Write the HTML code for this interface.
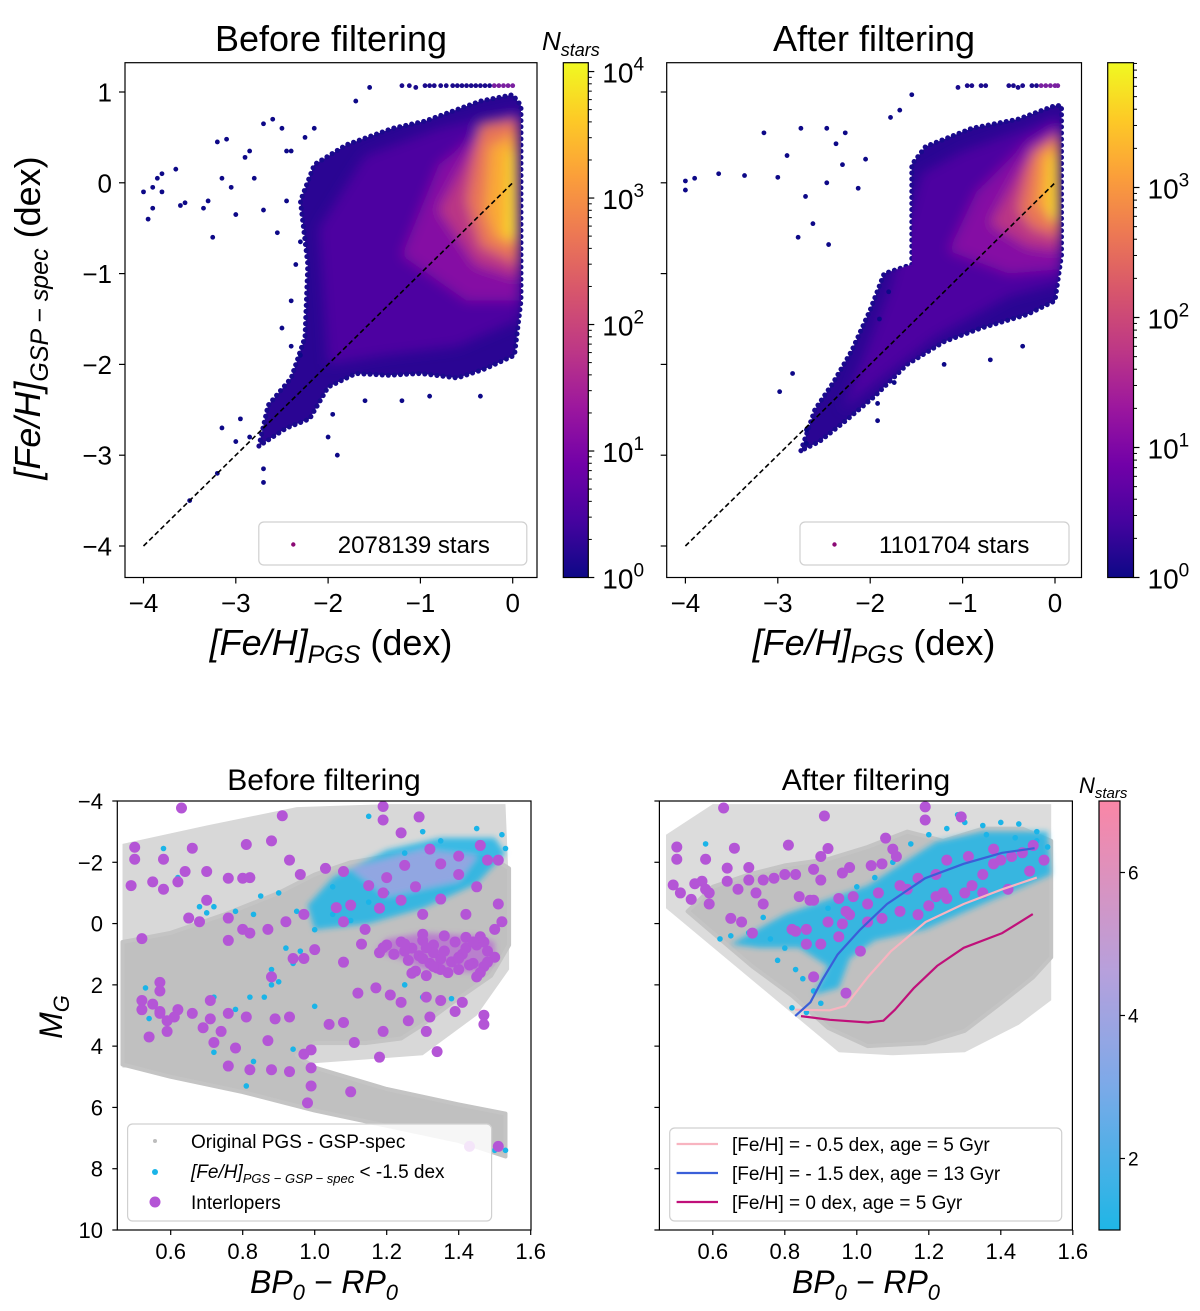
<!DOCTYPE html>
<html><head><meta charset="utf-8">
<style>
html,body{margin:0;padding:0;background:#fff;}
svg{display:block;font-family:"Liberation Sans","DejaVu Sans",sans-serif;}
</style></head>
<body>
<svg id="fig" xmlns="http://www.w3.org/2000/svg" width="1200" height="1311" viewBox="0 0 1200 1311">
<defs id="defs">
<linearGradient id="plasma" x1="0" y1="1" x2="0" y2="0">
<stop offset="0" stop-color="#0d0887"/><stop offset="0.11" stop-color="#46039f"/><stop offset="0.22" stop-color="#7201a8"/><stop offset="0.33" stop-color="#9c179e"/><stop offset="0.44" stop-color="#bd3786"/><stop offset="0.56" stop-color="#d8576b"/><stop offset="0.67" stop-color="#ed7953"/><stop offset="0.78" stop-color="#fb9f3a"/><stop offset="0.89" stop-color="#fdca26"/><stop offset="1" stop-color="#f0f921"/>
</linearGradient>
<linearGradient id="coolpink" x1="0" y1="1" x2="0" y2="0">
<stop offset="0" stop-color="#1fb6e6"/><stop offset="0.35" stop-color="#7fa9e8"/><stop offset="0.6" stop-color="#b6a0dc"/><stop offset="1" stop-color="#fa86a6"/>
</linearGradient>
<filter id="blur" x="-20%" y="-20%" width="140%" height="140%"><feGaussianBlur stdDeviation="6"/></filter>
<filter id="blur2" x="-20%" y="-20%" width="140%" height="140%"><feGaussianBlur stdDeviation="3"/></filter>
<clipPath id="clipTL"><rect x="125" y="62.7" width="412" height="514.8"/></clipPath>
<clipPath id="clipTR"><rect x="666.7" y="62.7" width="414.8" height="514.8"/></clipPath>
<clipPath id="clipBL"><rect x="117.3" y="801" width="413.7" height="429"/></clipPath>
<clipPath id="clipBR"><rect x="659.4" y="801" width="413" height="429"/></clipPath>
</defs>

<text x="331" y="51" font-size="36" text-anchor="middle">Before filtering</text>
<text x="874" y="51" font-size="36" text-anchor="middle">After filtering</text>
<text x="324" y="790" font-size="30" text-anchor="middle">Before filtering</text>
<text x="866" y="790" font-size="30" text-anchor="middle">After filtering</text>

<text x="331" y="655" font-size="36" text-anchor="middle"><tspan font-style="italic">[Fe/H]</tspan><tspan font-style="italic" font-size="25" dy="8">PGS</tspan><tspan dy="-8"> (dex)</tspan></text>
<text x="874" y="655" font-size="36" text-anchor="middle"><tspan font-style="italic">[Fe/H]</tspan><tspan font-style="italic" font-size="25" dy="8">PGS</tspan><tspan dy="-8"> (dex)</tspan></text>
<text transform="translate(40,318) rotate(-90)" font-size="36" text-anchor="middle"><tspan font-style="italic">[Fe/H]</tspan><tspan font-style="italic" font-size="25" dy="8">GSP − spec</tspan><tspan dy="-8"> (dex)</tspan></text>
<text x="324" y="1293" font-size="32" text-anchor="middle" font-style="italic">BP<tspan font-size="22" dy="7">0</tspan><tspan dy="-7"> − RP</tspan><tspan font-size="22" dy="7">0</tspan></text>
<text x="866" y="1293" font-size="32" text-anchor="middle" font-style="italic">BP<tspan font-size="22" dy="7">0</tspan><tspan dy="-7"> − RP</tspan><tspan font-size="22" dy="7">0</tspan></text>
<text transform="translate(62,1017) rotate(-90)" font-size="32" text-anchor="middle" font-style="italic">M<tspan font-size="22" dy="7">G</tspan></text>

<text x="542" y="50" font-size="26" font-style="italic">N<tspan font-size="18" dy="6">stars</tspan></text>
<text x="1079" y="793" font-size="22" font-style="italic">N<tspan font-size="15" dy="5">stars</tspan></text>

<g id="layer"></g>
</svg>
<script>
// ---------- data: top panels ----------
const topXTicks = [-4, -3, -2, -1, 0];
const topYTicks = [1, 0, -1, -2, -3, -4];
const topLeftEnvelope = [[-2.75,-2.9],[-2.65,-2.45],[-2.4,-2.15],[-2.25,-1.7],[-2.22,-0.9],[-2.3,-0.2],[-2.15,0.2],[-1.8,0.42],[-1.3,0.6],[-0.95,0.68],[-0.35,0.9],[0.0,0.97],[0.09,0.85],[0.09,-1.3],[0.02,-1.9],[-0.3,-2.05],[-0.6,-2.15],[-1.0,-2.1],[-1.35,-2.12],[-1.7,-2.1],[-2.0,-2.25],[-2.2,-2.6],[-2.45,-2.7]];
const topLeftL1 = [[-2.0,-2.0],[-2.1,-0.5],[-1.6,0.3],[-0.8,0.6],[0.06,0.8],[0.08,-1.5],[-0.6,-1.8],[-1.4,-1.9]];
const topLeftL2 = [[-1.2,-0.8],[-0.8,0.2],[-0.3,0.6],[0.06,0.75],[0.07,-1.3],[-0.5,-1.3]];
const topLeftL3 = [[-0.8,-0.3],[-0.35,0.55],[0.06,0.7],[0.07,-1.05],[-0.4,-0.9]];
const topLeftL4 = [[-0.5,-0.2],[-0.35,0.65],[0.05,0.7],[0.06,-0.9],[-0.35,-0.7]];
const topLeftL5 = [[-0.3,-0.3],[-0.25,0.4],[0.04,0.55],[0.05,-0.7],[-0.2,-0.6]];
const topLeftL6 = [[-0.06,-0.6],[-0.04,0.35],[0.02,0.35],[0.02,-0.6]];
const topLeftOutX = [-4,-3.95,-3.9,-3.85,-3.8,-3.8,-3.9,-3.65,-3.6,-3.55,-3.35,-3.3,-3.25,-3.2,-3.15,-3.1,-3.05,-3.0,-2.9,-2.85,-2.8,-2.7,-2.7,-2.6,-2.5,-2.55,-2.45,-2.4,-2.35,-2.3,-2.5,-2.4,-2.4,-2.3,-2.0,-1.9,-2.7,-2.7,-2.85,-3.0,-3.2,-3.5,-1.2,-0.9,-0.35,-1.55,-1.7,-2.15,-2.25,-2.45,-3.15,-2.95,-1.95,-1.6];
const topLeftOutY = [-0.1,-0.4,-0.05,0.05,0.1,-0.1,-0.28,0.15,-0.25,-0.22,-0.28,-0.2,-0.6,0.45,0.05,0.48,-0.05,-0.35,0.28,0.35,0.05,-0.3,0.65,0.7,0.6,-0.55,-0.2,0.35,-0.9,-0.65,-1.6,-1.3,-1.8,-1.9,-2.8,-3.0,-3.15,-3.3,-2.8,-2.85,-3.2,-3.5,-2.4,-2.35,-2.35,1.05,0.9,0.6,0.5,0.35,-2.7,-2.6,-2.55,-2.4];
const topLeftStripeX = [-1.2,-1.12,-1.05,-0.95,-0.9,-0.85,-0.78,-0.72,-0.65,-0.6,-0.55,-0.5,-0.45,-0.4,-0.35,-0.3,-0.25,-0.2,-0.15,-0.1,-0.05,0.0];
const topLeftStripeY = [1.07,1.07,1.05,1.07,1.07,1.07,1.07,1.07,1.07,1.07,1.07,1.07,1.07,1.07,1.07,1.07,1.07,1.07,1.07,1.07,1.07,1.07];

const topRightEnvelope = [[-2.75,-2.95],[-2.6,-2.5],[-2.4,-2.2],[-2.2,-1.85],[-2.0,-1.4],[-1.85,-1.0],[-1.55,-0.9],[-1.55,0.2],[-1.4,0.4],[-0.9,0.6],[-0.4,0.7],[0.0,0.85],[0.07,0.85],[0.07,-0.8],[0.0,-1.3],[-0.3,-1.45],[-0.8,-1.6],[-1.2,-1.75],[-1.6,-2.0],[-1.95,-2.35],[-2.3,-2.65],[-2.55,-2.85]];
const topRightL1 = [[-2.3,-2.5],[-1.8,-1.2],[-1.45,0.1],[-1.0,0.35],[-0.3,0.6],[0.05,0.75],[0.06,-1.1],[-0.5,-1.25],[-1.3,-1.7]];
const topRightL2 = [[-1.15,-0.75],[-0.85,-0.1],[-0.3,0.45],[0.05,0.65],[0.06,-0.95],[-0.5,-1.0]];
const topRightL3 = [[-0.7,-0.45],[-0.35,0.2],[0.05,0.55],[0.06,-0.75],[-0.3,-0.7]];
const topRightL4 = [[-0.4,-0.3],[-0.25,0.35],[0.05,0.55],[0.06,-0.6],[-0.25,-0.5]];
const topRightL5 = [[-0.2,-0.25],[-0.15,0.3],[0.04,0.45],[0.05,-0.45]];
const topRightL6 = [[-0.05,-0.4],[-0.03,0.3],[0.02,0.3],[0.02,-0.4]];
const topRightOutX = [-4,-4,-3.9,-3.64,-3.36,-3.15,-3.0,-2.9,-2.78,-2.75,-2.47,-2.7,-2.47,-2.27,-2.37,-2.3,-2.13,-2.05,-2.62,-2.45,-1.92,-1.92,-2.69,-2.69,-2.98,-2.84,-1.74,-1.55,-1.78,-1.68,-1.2,-0.7,-0.35,-1.9,-1.8];
const topRightOutY = [0.02,-0.08,0.05,0.1,0.08,0.55,0.06,0.3,-0.6,0.6,0.6,-0.15,0.0,0.55,0.43,0.2,-0.06,0.26,-0.45,-0.68,-2.62,-2.43,-2.72,-2.87,-2.3,-2.1,-2.2,0.97,0.72,0.8,-2.0,-1.95,-1.8,-1.5,-1.2];
const topRightStripeX = [-1.05,-0.95,-0.9,-0.8,-0.75,-0.5,-0.45,-0.4,-0.35,-0.25,-0.2,-0.15,-0.1,-0.05,0.0,0.03];
const topRightStripeY = [1.05,1.07,1.07,1.07,1.07,1.07,1.07,1.05,1.07,1.07,1.07,1.07,1.07,1.07,1.07,1.07];
const cbTopLeftTicks = [0, 1, 2, 3, 4];
const cbTopRightTicks = [0, 1, 2, 3];

// ---------- data: bottom panels ----------
const cmdXTicks = [0.6, 0.8, 1.0, 1.2, 1.4, 1.6];
const cmdYTicks = [-4, -2, 0, 2, 4, 6, 8, 10];
const blSparse = [[0.466,-2.6],[0.7,-3.2],[0.95,-3.8],[1.2,-3.9],[1.53,-3.9],[1.54,-1.0],[1.54,1.5],[1.45,3.0],[1.3,4.3],[0.95,4.6],[0.466,4.7]];
const blDense = [[0.466,0.6],[0.6,0.3],[0.75,-0.3],[0.9,-1.0],[1.0,-1.6],[1.1,-2.0],[1.2,-2.2],[1.35,-2.3],[1.5,-2.1],[1.54,-1.8],[1.54,0.7],[1.49,1.7],[1.38,2.6],[1.3,3.3],[1.24,3.75],[1.14,3.9],[1.0,3.9],[0.95,4.3],[1.0,4.7],[1.2,5.4],[1.4,5.9],[1.53,6.2],[1.53,7.6],[1.4,7.1],[1.2,6.6],[1.0,6.1],[0.8,5.5],[0.6,5.0],[0.466,4.6]];
const blCyanBlob = [[0.98,-0.6],[1.05,-1.5],[1.2,-2.4],[1.35,-2.8],[1.5,-2.8],[1.53,-2.3],[1.45,-1.3],[1.3,-0.5],[1.15,0.0],[1.0,0.2]];
const blLavBlob = [[1.1,-1.8],[1.3,-2.4],[1.45,-2.2],[1.4,-1.4],[1.2,-0.9]];
const blClump = [[1.2,0.5],[1.3,0.3],[1.45,0.4],[1.5,0.6],[1.5,1.3],[1.45,1.6],[1.3,1.5],[1.25,1.2],[1.17,0.9]];
const blClumpX = [1.2,1.24,1.27,1.3,1.33,1.36,1.39,1.42,1.45,1.48,1.5,1.22,1.26,1.29,1.32,1.35,1.38,1.41,1.44,1.47,1.28,1.31,1.34,1.37,1.4,1.43,1.46,1.3,1.36,1.42,1.18,1.25,1.33,1.4,1.47];
const blClumpY = [0.7,0.6,0.8,0.55,0.7,0.9,0.6,0.8,0.7,0.9,1.1,1.0,1.2,1.05,1.3,1.15,1.25,1.0,1.3,1.4,1.55,1.7,1.45,1.6,1.5,1.35,1.6,0.35,0.4,0.45,0.95,0.9,0.95,1.1,0.6];
const blCyanX = [0.58,0.62,0.68,0.72,0.7,0.78,0.83,0.85,0.9,0.95,0.96,0.92,0.94,0.88,0.9,0.88,0.86,0.82,0.78,0.83,0.81,0.72,0.53,0.54,0.72,1.15,1.3,1.45,1.52,1.53,1.35,1.25,1.2,1.15,1.05,1.05,1.1,1.0,1.25,1.3,1.38,1.5,1.53,1.0,0.94];
const blCyanY = [-2.45,-1.5,-0.55,-0.55,-0.35,-0.4,-0.3,-0.9,-1.0,-0.4,0.9,0.8,1.3,1.5,1.9,2.0,2.4,2.4,2.8,4.5,5.3,4.2,2.1,3.1,2.4,-3.5,-3.0,-3.1,-2.9,-2.45,-2.7,-2.3,-1.0,-0.7,-1.2,-0.3,-0.1,0.2,2.0,2.4,2.45,7.4,7.4,2.7,4.1];
const blPurpleX = [0.63,0.91,1.19,1.19,1.29,1.24,0.5,0.5,0.58,0.66,0.81,0.88,0.93,0.49,0.55,0.58,0.62,0.64,0.7,0.76,0.8,0.82,0.96,1.03,1.08,1.15,1.19,1.24,1.32,1.35,1.4,1.46,1.48,1.51,1.51,1.52,1.5,1.46,1.48,1.45,1.4,1.35,1.3,1.27,1.31,1.25,1.19,1.13,1.14,1.08,1.06,0.97,0.92,0.87,0.82,0.8,0.76,0.52,0.65,0.68,0.7,0.76,0.88,0.94,1.0,0.97,1.08,1.12,1.17,1.21,1.24,1.26,1.31,1.32,1.31,1.34,1.35,1.39,1.41,1.47,1.47,1.19,1.18,1.11,1.08,1.04,0.99,0.99,0.99,0.98,1.1,0.97,0.93,0.88,0.82,0.76,0.78,0.87,0.89,0.93,0.81,0.76,0.74,0.72,0.71,0.69,0.66,0.62,0.61,0.59,0.57,0.55,0.52,0.52,0.54,0.57,0.57,0.57,0.59,0.71,1.43,1.51,1.2,1.25,1.3,1.35,1.42,1.45,1.1,1.18,1.4,1.28,1.36,1.44,1.22,1.33];
const blPurpleY = [-3.77,-3.52,-3.82,-3.38,-3.48,-2.96,-2.49,-2.1,-2.1,-2.46,-2.58,-2.7,-2.07,-1.24,-1.36,-1.12,-1.36,-1.7,-1.7,-1.48,-1.48,-1.5,-1.6,-1.8,-1.7,-1.24,-1.0,-0.76,-2.43,-1.95,-2.2,-2.55,-2.07,-2.07,-0.64,-0.06,0.19,0.43,1.26,1.74,1.14,1.5,1.14,1.62,0.79,0.67,0.79,0.67,0.19,-0.06,-0.52,-0.3,-0.06,0.19,0.31,0.19,0.55,0.49,-0.18,-0.06,-0.76,-0.18,1.74,1.14,0.85,1.14,1.26,2.27,2.1,2.33,2.57,3.17,2.4,3.05,3.52,4.18,2.51,2.87,2.57,2.99,3.29,3.52,4.36,3.88,3.23,3.29,4.12,4.71,5.3,5.85,5.49,4.26,4.83,4.77,4.77,4.65,4.06,3.82,3.11,3.05,3.05,2.93,3.52,3.88,3.11,3.4,2.93,2.81,3.05,3.17,2.87,2.63,2.51,2.81,3.7,2.93,1.92,2.2,3.52,2.51,7.27,7.27,-1.5,-1.9,-0.3,-0.8,-0.3,-1.2,-0.6,-0.5,-1.6,-1.2,0.9,0.6,1.0,1.4];

const brSparse = [[0.47,-2.9],[0.6,-3.9],[1.0,-3.9],[1.54,-3.9],[1.54,2.5],[1.45,3.3],[1.3,4.2],[1.1,4.3],[0.95,4.2],[0.47,-0.5]];
const brDense = [[0.6,-1.2],[0.7,-1.6],[0.8,-1.9],[0.92,-2.1],[1.03,-2.5],[1.14,-3.0],[1.24,-2.7],[1.35,-3.1],[1.46,-3.1],[1.54,-2.7],[1.54,1.1],[1.49,1.75],[1.4,2.6],[1.3,3.5],[1.19,3.9],[1.03,4.0],[0.92,3.4],[0.82,2.35],[0.71,1.4],[0.6,0.3],[0.53,-0.4]];
const brCyanBlob = [[0.65,0.67],[0.8,-0.3],[1.03,-1.24],[1.22,-2.67],[1.35,-3.0],[1.53,-3.0],[1.54,-1.6],[1.35,-0.64],[1.19,0.19],[1.05,0.55],[0.98,1.14],[0.95,2.1],[0.88,2.33],[0.92,1.4],[0.84,0.79],[0.73,0.79]];
const brPurpleX = [0.63,0.91,1.19,1.19,1.29,0.5,0.5,0.58,0.66,0.81,0.92,0.9,0.49,0.51,0.54,0.55,0.57,0.59,0.59,0.58,0.64,0.64,0.67,0.7,0.7,0.72,0.74,0.77,0.8,0.83,0.88,0.9,0.96,0.98,1.04,1.07,1.11,1.1,1.08,0.65,0.68,0.71,0.74,0.84,0.87,0.82,0.83,0.86,0.88,0.95,0.99,1.03,1.06,1.14,1.2,1.22,1.25,1.3,1.32,1.35,1.38,1.4,1.43,1.46,1.49,1.52,1.38,1.31,1.25,1.22,1.17,1.12,0.97,0.92,0.95,0.9,0.96,1.01,0.97,0.88,0.86,0.98,1.03,1.07,1.12,1.17,1.24,1.35,1.42,1.48];
const brPurpleY = [-3.77,-3.51,-3.81,-3.38,-3.48,-2.5,-2.1,-2.1,-2.46,-2.56,-2.45,-2.19,-1.26,-1.0,-0.79,-1.3,-1.38,-1.0,-0.64,-1.12,-1.81,-1.38,-1.12,-1.83,-1.42,-1.0,-1.42,-1.48,-1.6,-1.6,-1.77,-1.42,-1.65,-1.83,-1.89,-1.95,-2.19,-2.43,-2.79,-0.17,-0.05,0.31,-0.64,-0.88,-0.76,0.19,0.25,0.19,-0.76,-0.82,-0.88,-0.64,-1.0,-1.12,-0.58,-0.88,-0.82,-1.0,-1.24,-1.6,-1.95,-2.07,-2.19,-2.31,-2.55,-2.07,-2.43,-2.19,-2.07,-1.6,-1.48,-1.24,-0.4,-0.05,0.43,0.67,0.01,0.9,2.27,1.74,0.67,-0.29,-0.05,-0.17,-0.4,-0.29,-1.0,-1.0,-1.12,-1.71];
const brCyanX = [0.58,0.62,0.65,0.7,0.74,0.76,0.8,0.83,0.85,0.88,0.9,0.86,0.82,0.92,1.0,1.05,1.1,1.15,1.2,1.25,1.3,1.35,1.4,1.45,1.5,1.53,1.28,1.36,1.44,1.5,1.52,0.78];
const brCyanY = [-2.6,0.5,0.4,0.3,-0.2,0.5,0.8,1.5,1.8,2.2,2.6,2.9,2.75,-0.5,-1.2,-1.5,-2.0,-2.6,-2.9,-3.1,-3.3,-3.2,-3.3,-3.25,-3.0,-2.5,-3.55,-2.9,-2.8,-2.7,-2.0,1.2];
const isoPinkX = [0.829,0.925,0.968,1.031,1.095,1.191,1.297,1.404,1.5];
const isoPinkY = [2.81,2.83,2.69,1.74,0.90,-0.05,-0.64,-1.12,-1.5];
const isoBlueX = [0.829,0.871,0.903,0.946,1.01,1.084,1.19,1.297,1.404,1.494];
const isoBlueY = [3.02,2.57,1.86,1.02,0.19,-0.64,-1.48,-1.95,-2.31,-2.46];
const isoMagX = [0.845,0.925,1.031,1.074,1.106,1.159,1.223,1.297,1.404,1.489];
const isoMagY = [3.02,3.14,3.23,3.17,2.81,2.1,1.38,0.79,0.31,-0.31];
const cbBottomTicks = [2, 4, 6];

// ---------- helpers ----------
const NS = 'http://www.w3.org/2000/svg';
const layer = document.getElementById('layer');
const defs = document.getElementById('defs');
function mk(tag, attrs, parent) {
  const e = document.createElementNS(NS, tag);
  for (const k in attrs) e.setAttribute(k, attrs[k]);
  (parent || layer).appendChild(e);
  return e;
}
function lin(d0, d1, p0, p1) { return v => p0 + (v - d0) * (p1 - p0) / (d1 - d0); }
const P = {
  tl: { x0: 125, x1: 537, y0: 62.7, y1: 577.5, sx: lin(-4, 0, 143.5, 512.7), sy: lin(0, -4, 182.8, 546), clip: 'clipTL' },
  tr: { x0: 666.7, x1: 1081.5, y0: 62.7, y1: 577.5, sx: lin(-4, 0, 685.4, 1055), sy: lin(0, -4, 182.8, 546), clip: 'clipTR' },
  bl: { x0: 117.3, x1: 531, y0: 801, y1: 1230, sx: lin(0.6, 1.6, 170.7, 530.7), sy: lin(-4, 10, 801, 1230), clip: 'clipBL' },
  br: { x0: 659.4, x1: 1072.4, y0: 801, y1: 1230, sx: lin(0.6, 1.6, 712.8, 1072.8), sy: lin(-4, 10, 801, 1230), clip: 'clipBR' }
};
function pts(p, arr) { return arr.map(d => p.sx(d[0]).toFixed(1) + ',' + p.sy(d[1]).toFixed(1)).join(' '); }
function fmt(v) { return (v < 0 ? '−' : '') + Math.abs(v); }

// ---------- top panels ----------
function topPanel(key, env, levels, outX, outY, stX, stY, showYLabels, n) {
  const p = P[key];
  const cp = mk('clipPath', { id: 'env-' + key }, defs);
  mk('polygon', { points: pts(p, env) }, cp);
  const g = mk('g', { 'clip-path': 'url(#' + p.clip + ')' });
  
  
  const e = mk('polygon', { points: pts(p, env), fill: '#2a0593', stroke: '#1a0a8c', 'stroke-width': 5, 'stroke-dasharray': '0.1,6', 'stroke-linecap': 'round', 'stroke-linejoin': 'round' }, g);
  
  
  const colors = ['#5302a3', '#8f0da4', '#c33d80', '#f07f4f', '#fdb32f', '#f0f921'];
  const gc = mk('g', { 'clip-path': 'url(#env-' + key + ')' }, g);
  const gl = mk('g', { filter: 'url(#blur)' }, gc);
  levels.forEach((lv, i) => {
    const q = mk('polygon', { points: pts(p, lv), fill: colors[i], opacity: 0.85 }, gl);
    
    
  });
  outX.forEach((x, i) => {
    const c = mk('circle', { cx: p.sx(x), cy: p.sy(outY[i]), r: 2.4, fill: '#0d0887' }, g);
    
    
  });
  stX.forEach((x, i) => {
    const c = mk('circle', { cx: p.sx(x), cy: p.sy(stY[i]), r: 2.4, fill: i > stX.length - 6 ? '#7a1fa0' : '#1a0a8c' }, g);
    
    
  });
  const dl = mk('line', { x1: p.sx(-4), y1: p.sy(-4), x2: p.sx(0), y2: p.sy(0), stroke: '#000', 'stroke-width': 1.6, 'stroke-dasharray': '5,3' });
  
  
  const lx = key === 'tl' ? 258.8 : 800, lw = key === 'tl' ? 268 : 269;
  const lg = mk('rect', { x: lx, y: 522, width: lw, height: 43, rx: 5, fill: '#fff', 'fill-opacity': 0.85, stroke: '#d0d0d0', 'stroke-width': 1.2 });
  
  
  const ld = mk('circle', { cx: lx + 34.5, cy: 544.5, r: 2.2, fill: '#8b0a75' });
  
  
  const lt = mk('text', { x: lx + 79, y: 553, 'font-size': 24 });
  lt.textContent = n + ' stars';
  
  
  const fr = mk('rect', { x: p.x0, y: p.y0, width: p.x1 - p.x0, height: p.y1 - p.y0, fill: 'none', stroke: '#000', 'stroke-width': 1.2 });
  
  
  topXTicks.forEach(t => {
    const x = p.sx(t);
    const tk = mk('line', { x1: x, y1: p.y1, x2: x, y2: p.y1 + 6, stroke: '#000', 'stroke-width': 1.2 });
    
    
    const tx = mk('text', { x: x, y: 612, 'font-size': 26, 'text-anchor': 'middle' });
    tx.textContent = fmt(t);
    
    
  });
  topYTicks.forEach(t => {
    const y = p.sy(t);
    const tk = mk('line', { x1: p.x0 - 6, y1: y, x2: p.x0, y2: y, stroke: '#000', 'stroke-width': 1.2 });
    
    
    if (showYLabels) {
      const tx = mk('text', { x: 112, y: y + 9.5, 'font-size': 26, 'text-anchor': 'end' });
      tx.textContent = fmt(t);
      
      
    }
  });
}
topPanel('tl', topLeftEnvelope, [topLeftL1, topLeftL2, topLeftL3, topLeftL4, topLeftL5, topLeftL6], topLeftOutX, topLeftOutY, topLeftStripeX, topLeftStripeY, true, '2078139');
topPanel('tr', topRightEnvelope, [topRightL1, topRightL2, topRightL3, topRightL4, topRightL5, topRightL6], topRightOutX, topRightOutY, topRightStripeX, topRightStripeY, false, '1101704');

function logColorbar(name, x0, x1, y0, y1, maxLog, ticks) {
  const sy = lin(0, maxLog, y1, y0);
  const r = mk('rect', { x: x0, y: y0, width: x1 - x0, height: y1 - y0, fill: 'url(#plasma)', stroke: '#000', 'stroke-width': 1.2 });
  
  
  for (let d = 0; d < Math.ceil(maxLog); d++) {
    for (let m = 2; m <= 9; m++) {
      const lv = d + Math.log10(m);
      if (lv > maxLog) continue;
      const y = sy(lv);
      const mt = mk('line', { x1: x1, y1: y, x2: x1 + 3.5, y2: y, stroke: '#000', 'stroke-width': 1 });
      
      
    }
  }
  ticks.forEach(t => {
    const y = sy(t);
    const tk = mk('line', { x1: x1, y1: y, x2: x1 + 6, y2: y, stroke: '#000', 'stroke-width': 1.2 });
    
    
    const tx = mk('text', { x: x1 + 14, y: y + 11, 'font-size': 28 });
    
    
    const a = mk('tspan', {}, tx); a.textContent = '10';
    const b = mk('tspan', { dy: -12, 'font-size': 19 }, tx); b.textContent = String(t);
  });
}
logColorbar('colorbar-top-left', 563.3, 588.3, 62.7, 577.5, 4.07, cbTopLeftTicks);
logColorbar('colorbar-top-right', 1107.7, 1133.5, 62.7, 577.5, 3.96, cbTopRightTicks);

// ---------- bottom panels ----------
function cmdBase(key) {
  const p = P[key];
  const g = mk('g', { 'clip-path': 'url(#' + p.clip + ')' });
  
  
  return g;
}
function poly(g, p, arr, attrs, name) {
  const a = Object.assign({ points: pts(p, arr) }, attrs);
  const e = mk('polygon', a, g);
  
  
  return e;
}
function dots(g, p, xs, ys, r, fill, name) {
  xs.forEach((x, i) => {
    const c = mk('circle', { cx: p.sx(x), cy: p.sy(ys[i]), r: r, fill: fill }, g);
    
    
  });
}
function cmdAxes(key, labels) {
  const p = P[key];
  const fr = mk('rect', { x: p.x0, y: p.y0, width: p.x1 - p.x0, height: p.y1 - p.y0, fill: 'none', stroke: '#000', 'stroke-width': 1.2 });
  
  
  cmdXTicks.forEach(t => {
    const x = p.sx(t);
    const tk = mk('line', { x1: x, y1: p.y1, x2: x, y2: p.y1 + 5, stroke: '#000', 'stroke-width': 1.2 });
    
    
    const tx = mk('text', { x: x, y: 1259, 'font-size': 22, 'text-anchor': 'middle' });
    tx.textContent = t.toFixed(1);
    
    
  });
  cmdYTicks.forEach(t => {
    const y = p.sy(t);
    const tk = mk('line', { x1: p.x0 - 5, y1: y, x2: p.x0, y2: y, stroke: '#000', 'stroke-width': 1.2 });
    
    
    if (labels) {
      const tx = mk('text', { x: 103, y: y + 8, 'font-size': 22, 'text-anchor': 'end' });
      tx.textContent = fmt(t);
      
      
    }
  });
}

{
  const p = P.bl, g = cmdBase('bl');
  poly(g, p, blSparse, { fill: '#d8d8d8' }, 'sparse-original-stars');
  poly(g, p, blDense, { fill: '#c0c0c0', stroke: '#c4c4c4', 'stroke-width': 4, 'stroke-linejoin': 'round' }, 'original-pgs-gsp-spec-cloud');
  const gb = mk('g', { filter: 'url(#blur2)' }, g);
  poly(gb, p, blCyanBlob, { fill: '#22b5e6', opacity: 0.85 }, 'metal-poor-density');
  poly(gb, p, blLavBlob, { fill: '#a9a2e2', opacity: 0.8 }, 'metal-poor-core');
  poly(gb, p, blClump, { fill: '#b455d6', opacity: 0.6 }, 'interloper-clump');
  dots(g, p, blCyanX, blCyanY, 2.8, '#1ab4e8', 'metal-poor-star');
  dots(g, p, blClumpX, blClumpY, 5.5, '#b455d6', 'interloper-star');
  dots(g, p, blPurpleX, blPurpleY, 5.5, '#b455d6', 'interloper-star');
  const lg = mk('rect', { x: 127.6, y: 1124, width: 364, height: 97, rx: 5, fill: '#fff', 'fill-opacity': 0.85, stroke: '#d0d0d0', 'stroke-width': 1.2 });
  
  
  const m1 = mk('circle', { cx: 155, cy: 1141, r: 2, fill: '#bdbdbd' });
  
  
  const m2 = mk('circle', { cx: 155, cy: 1172, r: 3, fill: '#1ab4e8' });
  
  
  const m3 = mk('circle', { cx: 155, cy: 1202, r: 5.5, fill: '#b455d6' });
  
  
  const t1 = mk('text', { x: 191, y: 1148, 'font-size': 19 });
  t1.textContent = 'Original PGS - GSP-spec';
  
  
  const t2 = mk('text', { x: 191, y: 1178, 'font-size': 19 });
  
  
  const a = mk('tspan', { 'font-style': 'italic' }, t2); a.textContent = '[Fe/H]';
  const b = mk('tspan', { 'font-style': 'italic', 'font-size': 13, dy: 5 }, t2); b.textContent = 'PGS − GSP − spec';
  const c = mk('tspan', { dy: -5 }, t2); c.textContent = ' < -1.5 dex';
  const t3 = mk('text', { x: 191, y: 1209, 'font-size': 19 });
  t3.textContent = 'Interlopers';
  
  
  cmdAxes('bl', true);
}
{
  const p = P.br, g = cmdBase('br');
  poly(g, p, brSparse, { fill: '#dcdcdc' }, 'sparse-filtered-stars');
  poly(g, p, brDense, { fill: '#c0c0c0', stroke: '#c4c4c4', 'stroke-width': 4, 'stroke-linejoin': 'round' }, 'filtered-cloud');
  const gb = mk('g', { filter: 'url(#blur2)' }, g);
  poly(gb, p, brCyanBlob, { fill: '#22b5e6', opacity: 0.85 }, 'metal-poor-density');
  dots(g, p, brCyanX, brCyanY, 2.8, '#1ab4e8', 'metal-poor-star');
  dots(g, p, brPurpleX, brPurpleY, 5.5, '#b455d6', 'interloper-star');
  const iso = [[isoPinkX, isoPinkY, '#f8b4c0', 'isochrone-feh-minus-0.5'], [isoBlueX, isoBlueY, '#3a5fd8', 'isochrone-feh-minus-1.5'], [isoMagX, isoMagY, '#c0107a', 'isochrone-feh-0']];
  iso.forEach(s => {
    const d = s[0].map((x, i) => (i ? 'L' : 'M') + p.sx(x).toFixed(1) + ',' + p.sy(s[1][i]).toFixed(1)).join(' ');
    const l = mk('path', { d: d, fill: 'none', stroke: s[2], 'stroke-width': 2.2, 'stroke-linejoin': 'round' });
    
    
  });
  const lg = mk('rect', { x: 669.7, y: 1128, width: 392, height: 93, rx: 5, fill: '#fff', 'fill-opacity': 0.85, stroke: '#d0d0d0', 'stroke-width': 1.2 });
  
  
  const items = [['#f8b4c0', 1144, '[Fe/H] = - 0.5 dex, age = 5 Gyr'], ['#3a5fd8', 1173, '[Fe/H] = - 1.5 dex, age = 13 Gyr'], ['#c0107a', 1202, '[Fe/H] =  0 dex, age = 5 Gyr']];
  items.forEach(it => {
    const ln = mk('line', { x1: 676.6, y1: it[1], x2: 718, y2: it[1], stroke: it[0], 'stroke-width': 2.2 });
    
    
    const t = mk('text', { x: 732, y: it[1] + 7, 'font-size': 19, 'xml:space': 'preserve' });
    t.textContent = it[2];
    
    
  });
  cmdAxes('br', false);
  const sy = lin(1, 7, 1230, 801);
  const cb = mk('rect', { x: 1099, y: 801, width: 21, height: 429, fill: 'url(#coolpink)', stroke: '#000', 'stroke-width': 1.2 });
  
  
  cbBottomTicks.forEach(t => {
    const y = sy(t);
    const tk = mk('line', { x1: 1120, y1: y, x2: 1125, y2: y, stroke: '#000', 'stroke-width': 1.2 });
    
    
    const tx = mk('text', { x: 1128, y: y + 7, 'font-size': 19 });
    tx.textContent = String(t);
    
    
  });
}
</script>
</body></html>
